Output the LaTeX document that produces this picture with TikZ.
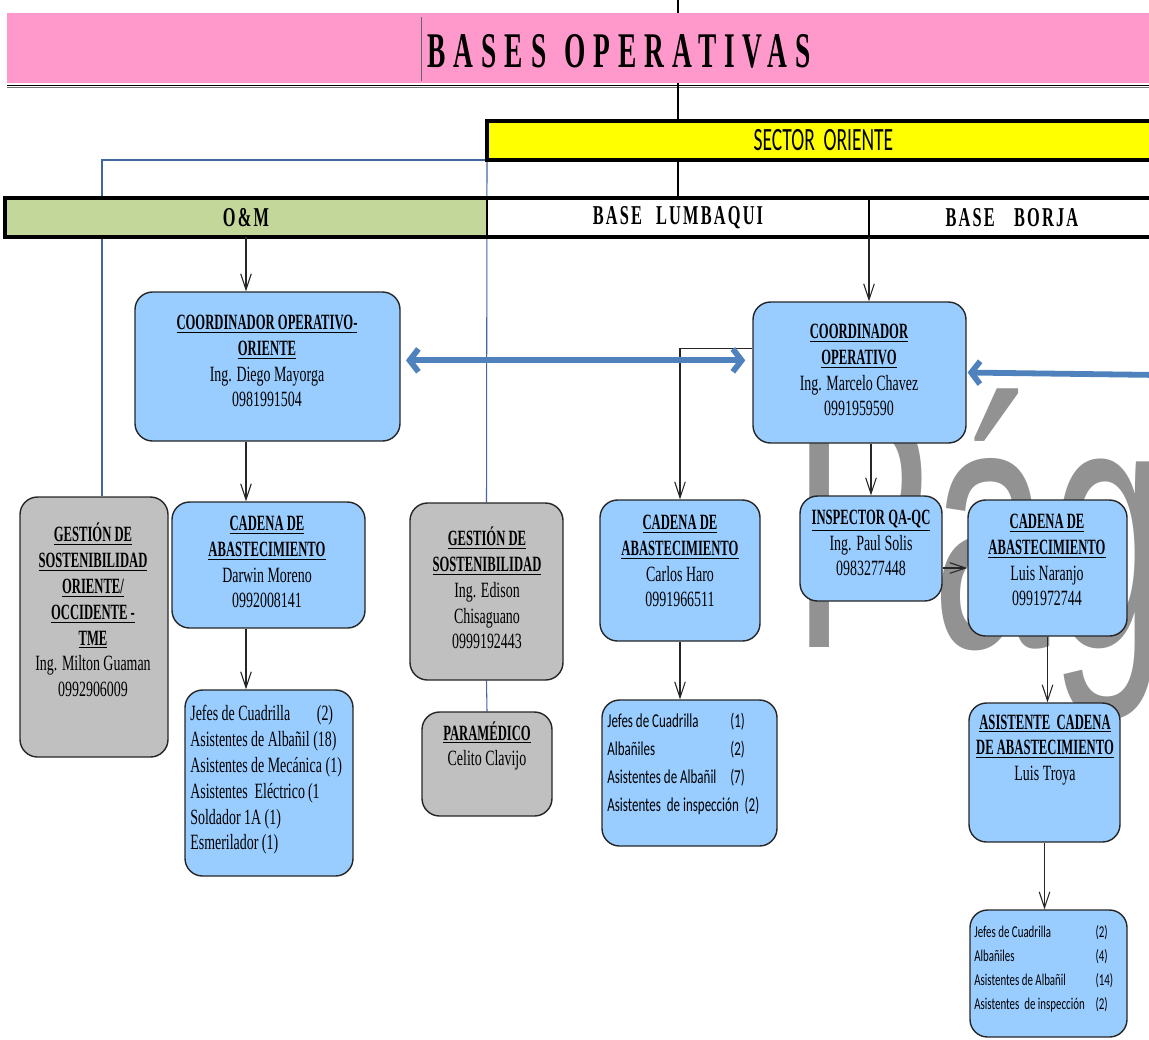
\documentclass[tikz,border=0pt]{standalone}
\usepackage{fontspec}
\setmainfont{Liberation Serif}
\newfontfamily\cardfont[FakeStretch=0.64]{Liberation Serif}
\newfontfamily\cardbf[FakeStretch=0.58]{Liberation Serif}
\newfontfamily\listfont[FakeStretch=0.66]{Carlito}
\newfontfamily\sectorfont[FakeStretch=0.6]{Carlito}
\newfontfamily\titlefont[FakeStretch=0.55,LetterSpace=16]{Liberation Serif}
\newfontfamily\bandfont[FakeStretch=0.6,LetterSpace=8]{Liberation Serif}
\newfontfamily\wmfont[FakeStretch=0.6]{Liberation Sans}
\usetikzlibrary{arrows.meta,positioning,calc,fit,backgrounds}
\definecolor{titlepink}{HTML}{FF99CC}
\definecolor{sectoryellow}{HTML}{FFFF00}
\definecolor{omgreen}{HTML}{C4D79B}
\definecolor{cardblue}{HTML}{99CCFF}
\definecolor{cardgray}{HTML}{C0C0C0}
\definecolor{linkblue}{HTML}{41679F}
\definecolor{arrowblue}{HTML}{4F81BD}
\definecolor{wmgray}{HTML}{929292}
\newcommand{\hd}[1]{{\cardbf\bfseries\underline{#1}}}

\begin{document}
\begin{tikzpicture}[x=0.02cm, y=-0.02cm,
  card/.style={draw=black!85, line width=0.8pt, rounded corners=10pt, fill=cardblue, inner sep=0pt},
  graycard/.style={card, fill=cardgray},
  cardtxt/.style={align=center, inner sep=0pt, font=\cardfont\fontsize{12.4}{14.7}\selectfont},
  listtxt/.style={align=left, inner sep=0pt, anchor=west},
  cell/.style={inner sep=0pt, outer sep=0pt},
  band/.style={inner sep=0pt, font=\bandfont\bfseries\fontsize{15.5}{18}\selectfont},
  arr/.style={draw=black!85, line width=0.6pt, -{Straight Barb[length=9pt,width=6pt]}},
  stem/.style={draw=black, line width=0.7pt},
  linkline/.style={draw=linkblue, line width=0.6pt},
  bigarr/.style={draw=arrowblue, line width=3.3pt},
]
  \useasboundingbox (0,0) rectangle (1149,1039);

  % watermark behind everything
  \node[anchor=base west, inner sep=0pt, text=wmgray, font=\wmfont\fontsize{200}{200}\selectfont] (wmark) at (792,647) {Pág};

  % title band
  \node[cell, fit={(7,13) (1160,83)}, fill=titlepink] (title) {};
  \node[font=\titlefont\bfseries\fontsize{28.4}{30}\selectfont, inner sep=0pt] (title-txt) at (619,51) {BASES\hspace{10pt}OPERATIVAS};
  \draw[black!60, line width=0.5pt] (421,17) -- (421,81);
  \draw[line width=1pt] ([yshift=-1.4pt]title.south west) -- ([yshift=-1.4pt]title.south east);
  \draw[black!55, line width=0.6pt] ([yshift=-2.8pt]title.south west) -- ([yshift=-2.8pt]title.south east);

  % sector and bases
  \node[cell, fit={(487,121) (1160,160)}, fill=sectoryellow, draw=black, line width=2.2pt] (sector) {};
  \node[inner sep=0pt, font=\sectorfont\fontsize{18.5}{20}\selectfont] (sector-txt) at (sector.center) {SECTOR\hspace{5pt}ORIENTE};
  \node[cell, fit={(5,198) (487,237)}, fill=omgreen] (om) {};
  \node[cell, fit={(487,198) (869,237)}, fill=white] (lumb) {};
  \node[cell, fit={(869,198) (1160,237)}, fill=white] (borja) {};
  \node[band] (om-txt) at (om.center) {O\&M};
  \node[band] (lumb-txt) at (lumb.center) {BASE\hspace{8pt}LUMBAQUI};
  \node[band] (borja-txt) at ([xshift=-1.5pt]borja.center) {BASE\hspace{11pt}BORJA};
  \draw[line width=2.2pt] (om.north west) rectangle (borja.south east);
  \draw[line width=1.4pt] (om.north east) -- (om.south east);
  \draw[line width=0.8pt] (lumb.north east) -- (lumb.south east);

  \coordinate (topmark) at (678,0);
  \draw[stem] (topmark) -- (topmark |- title.north);
  \draw[stem] (title.south -| lumb.north) -- (sector.north -| lumb.north);
  \draw[stem] (sector.south -| lumb.north) -- (lumb.north);

  % O&M column
  \node[card, fit={(135,292) (400,441)}] (coord1) {};
  \node[cardtxt] (coord1-txt) at (267,361) {\hd{COORDINADOR OPERATIVO-}\\ \hd{ORIENTE}\\ Ing. Diego Mayorga\\ 0981991504};
  \node[graycard, fit={(20,497) (168,757)}] (gest1) {};
  \node[cardtxt] (gest1-txt) at (93,610) {\hd{GESTIÓN DE}\\ \hd{SOSTENIBILIDAD}\\ \hd{ORIENTE/}\\ \hd{OCCIDENTE -}\\ \hd{TME}\\ Ing. Milton Guaman\\ 0992906009};
  \node[card, fit={(172,502) (365,628)}] (cad1) {};
  \node[cardtxt] (cad1-txt) at (267,562) {\hd{CADENA DE}\\ \hd{ABASTECIMIENTO}\\ Darwin Moreno\\ 0992008141};
  \node[card, fit={(185,690) (353,876)}] (work1) {};
  \node[cardtxt, listtxt] (work1-txt) at (190,780) {\makebox[72pt][l]{Jefes de Cuadrilla}(2)\\
    \makebox[70pt][l]{Asistentes de Albañil}(18)\\
    \makebox[77pt][l]{Asistentes de Mecánica}(1)\\
    \makebox[67pt][l]{Asistentes\ \ Eléctrico}(1\\
    Soldador 1A (1)\\
    Esmerilador (1)};
  \node[graycard, fit={(410,503) (563,680)}] (gest2) {};
  \node[cardtxt] (gest2-txt) at (487,588) {\hd{GESTIÓN DE}\\ \hd{SOSTENIBILIDAD}\\ Ing. Edison\\ Chisaguano\\ 0999192443};
  \node[graycard, fit={(422,712) (552,816)}] (param) {};
  \node[cardtxt] (param-txt) at (487,746) {\hd{PARAMÉDICO}\\ Celito Clavijo};

  % Base Lumbaqui / Borja
  \node[card, fit={(753,302) (966,443)}] (coord2) {};
  \node[cardtxt] (coord2-txt) at (859,370) {\hd{COORDINADOR}\\ \hd{OPERATIVO}\\ Ing. Marcelo Chavez\\ 0991959590};
  \node[card, fit={(600,500) (760,641)}] (cad2) {};
  \node[cardtxt] (cad2-txt) at (680,561) {\hd{CADENA DE}\\ \hd{ABASTECIMIENTO}\\ Carlos Haro\\ 0991966511};
  \node[card, fit={(602,700) (777,846)}] (work2) {};
  \node[listtxt, font=\listfont\fontsize{11.2}{15.9}\selectfont] (work2-txt) at (607,764) {\makebox[70pt][l]{Jefes de Cuadrilla}(1)\\
    \makebox[70pt][l]{Albañiles}(2)\\
    \makebox[70pt][l]{Asistentes de Albañil}(7)\\
    Asistentes\ \ de inspección\ \ (2)};
  \node[card, fit={(800,496) (942,601)}] (insp) {};
  \node[cardtxt] (insp-txt) at (871,543) {\hd{INSPECTOR QA-QC}\\ Ing. Paul Solis\\ 0983277448};
  \node[card, fit={(968,500) (1127,636)}] (cad3) {};
  \node[cardtxt] (cad3-txt) at (1047,560) {\hd{CADENA DE}\\ \hd{ABASTECIMIENTO}\\ Luis Naranjo\\ 0991972744};
  \node[card, fit={(969,703) (1120,842)}] (asist) {};
  \node[cardtxt] (asist-txt) at (1045,750) {\hd{ASISTENTE\ \ CADENA}\\ \hd{DE ABASTECIMIENTO}\\ Luis Troya};
  \node[card, fit={(970,910) (1127,1037)}] (work3) {};
  \node[listtxt, font=\listfont\fontsize{9.4}{13.6}\selectfont] (work3-txt) at (974,969) {\makebox[69pt][l]{Jefes de Cuadrilla}(2)\\
    \makebox[69pt][l]{Albañiles}(4)\\
    \makebox[69pt][l]{Asistentes de Albañil}(14)\\
    \makebox[69pt][l]{Asistentes\ \ de inspección}(2)};

  % thin blue links, under the bands
  \begin{scope}[on background layer]
    \coordinate (bend) at (102,160);
    \draw[linkline] (sector.south west) -- (bend) -- (bend |- gest1.north);
    \draw[linkline] (sector.south west) -- (gest2.north);
    \draw[linkline] (gest2.south) -- (param.north);
  \end{scope}

  % connectors
  \draw[arr] (om.south) -- (om.south |- coord1.north);
  \draw[arr] (lumb.south east) -- (lumb.south east |- coord2.north);
  \draw[arr] (coord1.south -| om.south) -- (cad1.north -| om.south);
  \draw[arr] (cad1.south -| om.south) -- (work1.north -| om.south);
  \draw[arr] ([yshift=13.5pt]coord2.west) -| (cad2.north);
  \draw[arr] (cad2.south) -- (cad2.south |- work2.north);
  \draw[arr] (coord2.south -| insp.north) -- (insp.north);
  \draw[arr] (insp.east |- cad3.west) -- (cad3.west);
  \draw[arr] (cad3.south) -- (cad3.south |- asist.north);
  \draw[arr] (asist.south) -- (asist.south |- work3.north);

  % coordination arrows
  \draw[bigarr, {Straight Barb[length=5pt,width=13pt]}-{Straight Barb[length=5pt,width=13pt]}, shorten <=3pt, shorten >=4pt]
    ([yshift=3.5pt]coord1.east) -- ([yshift=3.5pt]coord1.east -| coord2.west);
  \coordinate (rim) at (1160,375);
  \draw[bigarr, -{Straight Barb[length=5pt,width=13pt]}, shorten >=0.5pt] (rim) -- (coord2.east);
\end{tikzpicture}
\end{document}
